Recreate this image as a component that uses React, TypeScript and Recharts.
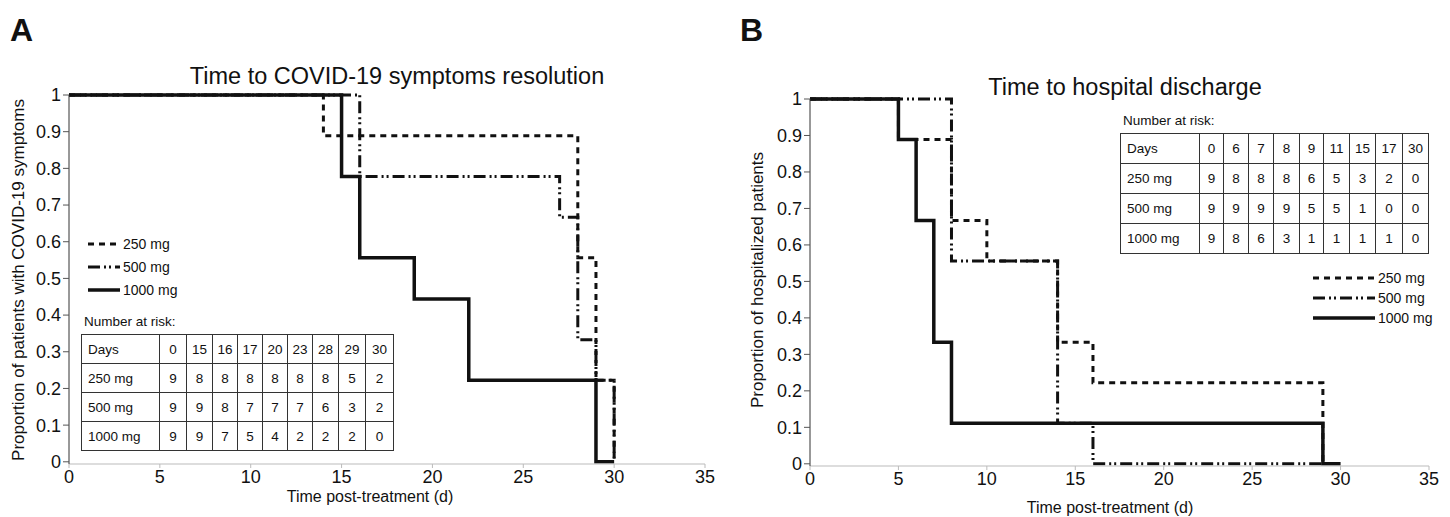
import { LineChart, Line, XAxis, YAxis } from "recharts";

// Kaplan-Meier step points: event day -> survival proportion
const A_250_T = [0, 14, 28, 29, 30];
const A_250_S = [1, 0.889, 0.556, 0.222, 0];
const A_500_T = [0, 16, 27, 28, 29, 30];
const A_500_S = [1, 0.778, 0.667, 0.333, 0.222, 0];
const A_1000_T = [0, 15, 16, 19, 22, 29, 30];
const A_1000_S = [1, 0.778, 0.556, 0.444, 0.222, 0, 0];

const B_250_T = [0, 5, 8, 10, 14, 16, 29];
const B_250_S = [1, 0.889, 0.667, 0.556, 0.333, 0.222, 0];
const B_500_T = [0, 8, 14, 16, 29];
const B_500_S = [1, 0.556, 0.111, 0, 0];
const B_1000_T = [0, 5, 6, 7, 8, 29, 30];
const B_1000_S = [1, 0.889, 0.667, 0.333, 0.111, 0, 0];

const X_TICKS = [0, 5, 10, 15, 20, 25, 30, 35];
const Y_TICKS = [0, 0.1, 0.2, 0.3, 0.4, 0.5, 0.6, 0.7, 0.8, 0.9, 1];
const DOSES = ["250 mg", "500 mg", "1000 mg"];

// number at risk tables
const A_RISK_DAYS = [0, 15, 16, 17, 20, 23, 28, 29, 30];
const A_RISK_250 = [9, 8, 8, 8, 8, 8, 8, 5, 2];
const A_RISK_500 = [9, 9, 8, 7, 7, 7, 6, 3, 2];
const A_RISK_1000 = [9, 9, 7, 5, 4, 2, 2, 2, 0];

const B_RISK_DAYS = [0, 6, 7, 8, 9, 11, 15, 17, 30];
const B_RISK_250 = [9, 8, 8, 8, 6, 5, 3, 2, 0];
const B_RISK_500 = [9, 9, 9, 9, 5, 5, 1, 0, 0];
const B_RISK_1000 = [9, 8, 6, 3, 1, 1, 1, 1, 0];

const FONT = '"Liberation Sans", Arial, sans-serif';
const NARROW = '"Liberation Sans Narrow", "Arial Narrow", "Liberation Sans", Arial, sans-serif';
const INK = "#111";

const DASH: Record<string, string | undefined> = {
  "250 mg": "6 5",
  "500 mg": "12 4 2 3 2 4",
  "1000 mg": undefined,
};
const WIDTH: Record<string, number> = { "250 mg": 3, "500 mg": 3, "1000 mg": 3.5 };

const zip = (t: number[], s: number[]) => t.map((x, i) => ({ t: x, s: s[i] }));

function RiskTable({ days, rows, left, top, colW, rowH }: any) {
  const cell = (w: number): React.CSSProperties => ({
    width: w, height: rowH, border: "1px solid #333", padding: 0,
    textAlign: "center", boxSizing: "border-box",
  });
  const all = [["Days", ...days], ...rows];
  return (
    <div style={{ position: "absolute", left, top: top - 21, fontFamily: NARROW, fontSize: 13.5, color: INK }}>
      <div style={{ height: 21, paddingLeft: 3, lineHeight: "18px" }}>Number at risk:</div>
      <table style={{ borderCollapse: "collapse", tableLayout: "fixed" }}>
        <tbody>
          {all.map((r: any[], ri: number) => (
            <tr key={ri}>
              {r.map((v, ci) => (
                <td key={ci} style={{ ...cell(colW[ci]), textAlign: ci === 0 ? "left" : "center", paddingLeft: ci === 0 ? 6 : 0 }}>
                  {v}
                </td>
              ))}
            </tr>
          ))}
        </tbody>
      </table>
    </div>
  );
}

function KeyBox({ left, top, lineW, gap }: any) {
  return (
    <div style={{ position: "absolute", left, top, fontFamily: NARROW, fontSize: 14, color: INK }}>
      {DOSES.map((d) => (
        <div key={d} style={{ display: "flex", alignItems: "center", height: gap }}>
          <svg width={lineW} height={8}>
            <line x1={0} y1={4} x2={lineW} y2={4} stroke={INK} strokeWidth={WIDTH[d]} strokeDasharray={DASH[d]} />
          </svg>
          <span style={{ marginLeft: 3 }}>{d}</span>
        </div>
      ))}
    </div>
  );
}

// y domain starts a hair below 0 so the curves sitting on 0 stay above the x axis line
function Panel({ left, series, margin, yWidth }: any) {
  return (
    <div style={{ position: "absolute", left, top: 0 }}>
      <LineChart width={720} height={517} margin={margin}>
        <XAxis
          type="number" dataKey="t" domain={[0, 35]} ticks={X_TICKS}
          stroke="#bbb" tickSize={4} height={30}
          tick={{ fill: INK, fontSize: 18, fontFamily: FONT }}
        />
        <YAxis
          type="number" dataKey="s" domain={[-0.006, 1]} ticks={Y_TICKS} width={yWidth}
          stroke="#333" tickSize={6} tickLine={{ stroke: "#555" }}
          tick={{ fill: INK, fontSize: 18, fontFamily: FONT }}
        />
        {DOSES.map((d, i) => (
          <Line
            key={d} data={series[i]} dataKey="s" type="stepAfter" dot={false}
            stroke={INK} strokeWidth={WIDTH[d]} strokeDasharray={DASH[d]}
            isAnimationActive={false}
          />
        ))}
      </LineChart>
    </div>
  );
}

const textAbs = (x: number, y: number, size: number, extra: React.CSSProperties = {}): React.CSSProperties => ({
  position: "absolute", left: x, top: y, fontFamily: FONT, fontSize: size, color: INK,
  whiteSpace: "nowrap", lineHeight: 1, ...extra,
});

export default function App() {
  const seriesA = [zip(A_250_T, A_250_S), zip(A_500_T, A_500_S), zip(A_1000_T, A_1000_S)];
  const seriesB = [zip(B_250_T, B_250_S), zip(B_500_T, B_500_S), zip(B_1000_T, B_1000_S)];
  return (
    <div style={{ position: "fixed", left: 0, top: 0, width: 1450, height: 517, background: "#fff", overflow: "hidden" }}>
      <Panel left={0} series={seriesA} yWidth={59} margin={{ top: 95, right: 15, bottom: 23, left: 10 }} />
      <Panel left={730} series={seriesB} yWidth={70} margin={{ top: 99, right: 21, bottom: 21, left: 10 }} />

      <div style={textAbs(10, 14, 32, { fontWeight: "bold" })}>A</div>
      <div style={textAbs(740, 14, 32, { fontWeight: "bold" })}>B</div>

      <div style={textAbs(397, 65, 23.5, { transform: "translateX(-50%)" })}>Time to COVID-19 symptoms resolution</div>
      <div style={textAbs(1125, 76, 23.5, { transform: "translateX(-50%)" })}>Time to hospital discharge</div>

      <div style={textAbs(370, 489, 16, { transform: "translateX(-50%)" })}>Time post-treatment (d)</div>
      <div style={textAbs(1110, 500, 16, { transform: "translateX(-50%)" })}>Time post-treatment (d)</div>

      <div style={textAbs(18, 280, 17, { transform: "translate(-50%, -50%) rotate(-90deg)" })}>
        Proportion of patients with COVID-19 symptoms
      </div>
      <div style={textAbs(757, 280, 17, { transform: "translate(-50%, -50%) rotate(-90deg)" })}>
        Proportion of hospitalized patients
      </div>

      <KeyBox left={88} top={232} lineW={32} gap={23} />
      <KeyBox left={1313} top={268} lineW={62} gap={20} />

      <RiskTable
        days={A_RISK_DAYS}
        rows={[["250 mg", ...A_RISK_250], ["500 mg", ...A_RISK_500], ["1000 mg", ...A_RISK_1000]]}
        left={81} top={334} colW={[78, 27, 26, 25, 25, 25, 25, 26, 27, 28]} rowH={29}
      />
      <RiskTable
        days={B_RISK_DAYS}
        rows={[["250 mg", ...B_RISK_250], ["500 mg", ...B_RISK_500], ["1000 mg", ...B_RISK_1000]]}
        left={1120} top={133} colW={[79, 24, 25, 25, 26, 24, 26, 26, 27, 26]} rowH={30}
      />
    </div>
  );
}
